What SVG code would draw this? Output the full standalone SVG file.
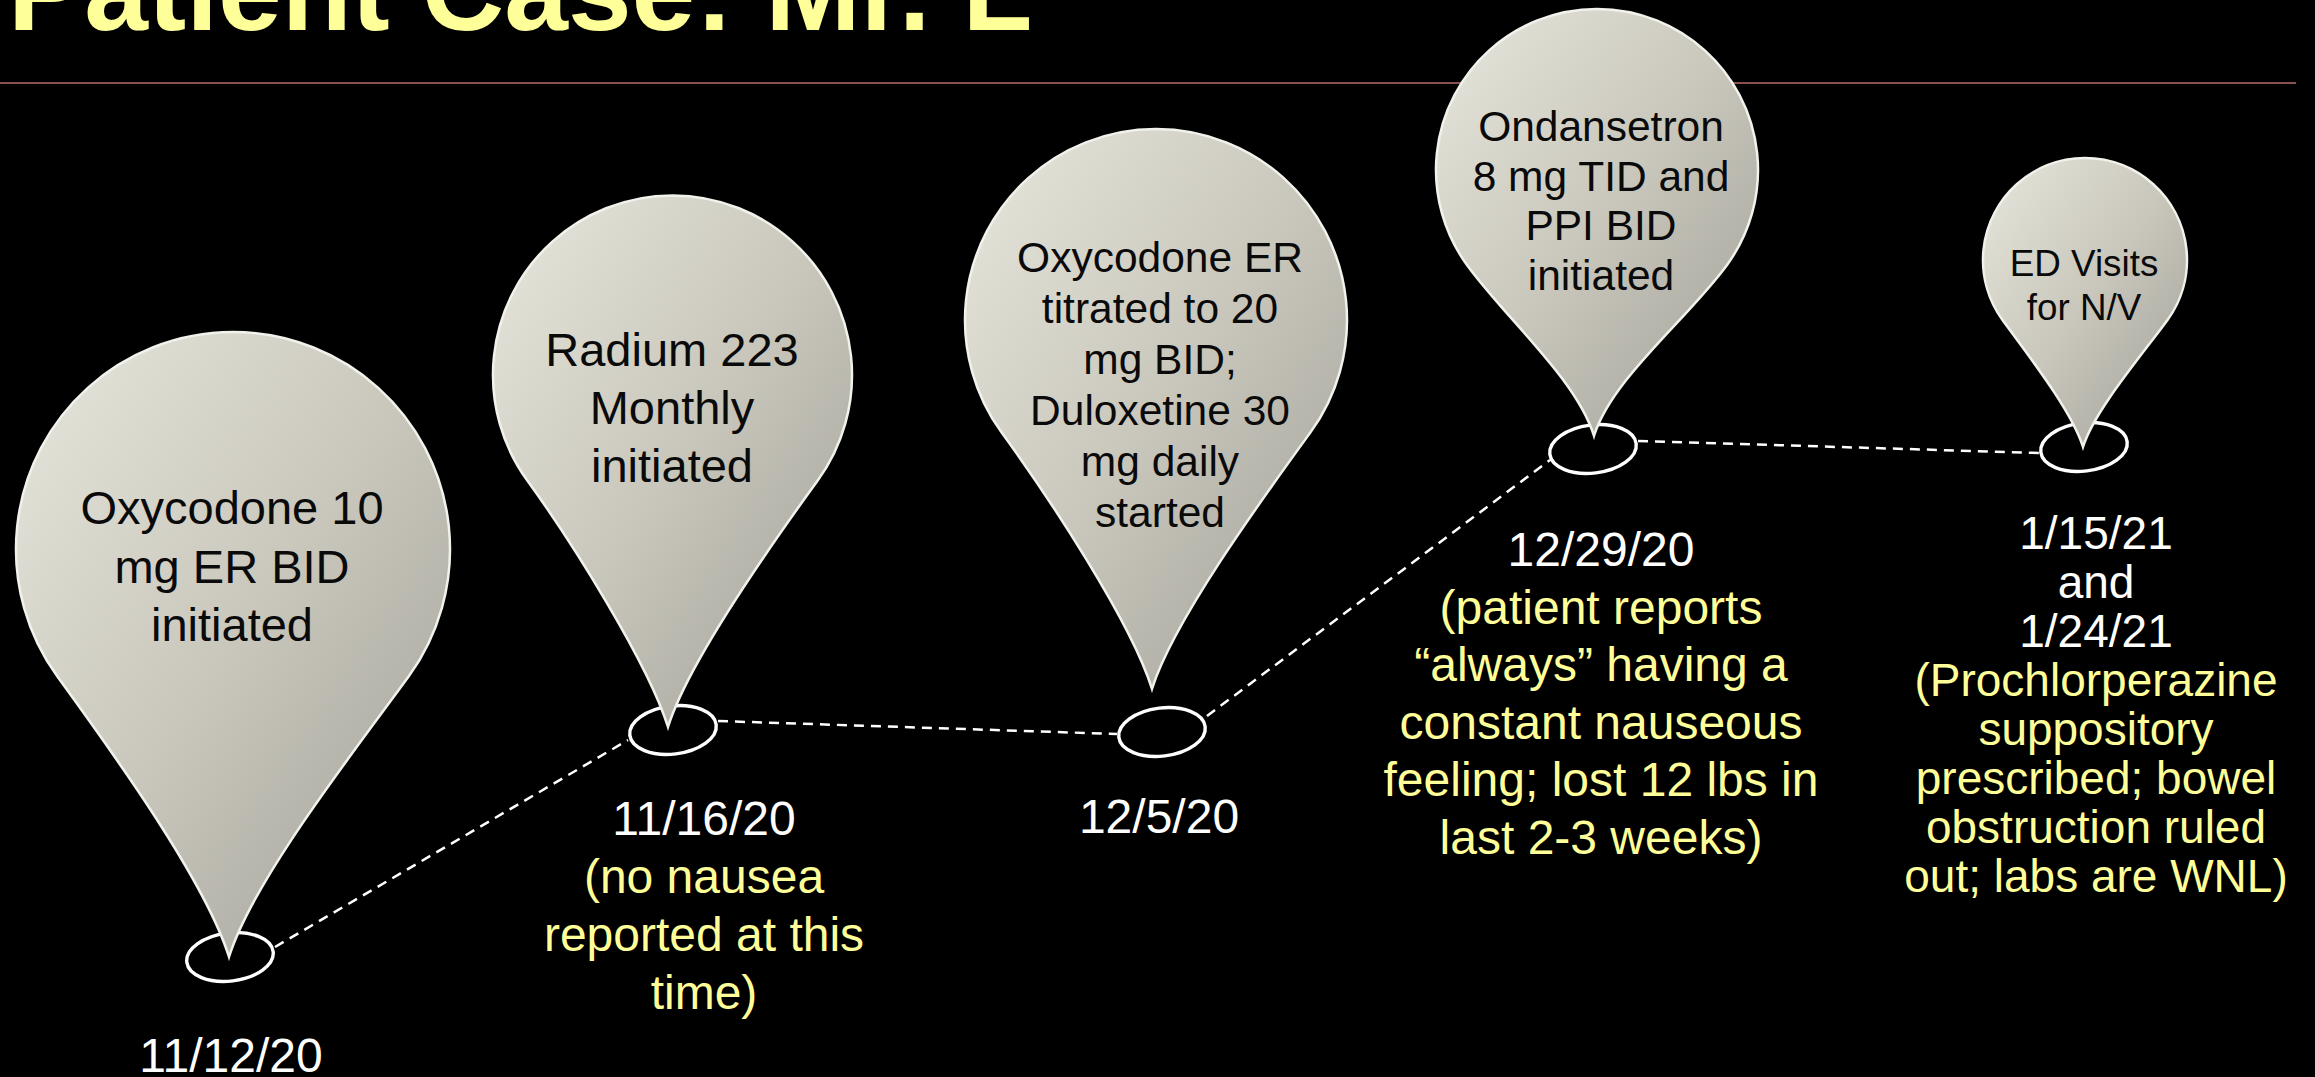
<svg xmlns="http://www.w3.org/2000/svg" width="2315" height="1077" viewBox="0 0 2315 1077">
<defs>
<linearGradient id="pinFill" x1="0" y1="0" x2="1" y2="1">
<stop offset="0" stop-color="#E8E7DD"/>
<stop offset="0.5" stop-color="#C9C7BC"/>
<stop offset="1" stop-color="#9F9E96"/>
</linearGradient>
<style>
.pin{fill:url(#pinFill);stroke:#F2F2EC;stroke-width:2.5}
.mark{fill:none;stroke:#FFFFFF;stroke-width:3.4}
.conn{stroke:#FFFFFF;stroke-width:2.5;stroke-dasharray:10 7;fill:none}
.pt{font-family:"Liberation Sans",Arial,sans-serif;fill:#0A0A0A;text-anchor:middle}
.lbl{font-family:"Liberation Sans",Arial,sans-serif;text-anchor:middle;font-size:48px}
.l5{font-size:46px}
.w{fill:#FFFFFF}
.y{fill:#FFFF99}
</style>
</defs>
<rect x="0" y="0" width="2315" height="1077" fill="#000000"/>
<g id="title">
<text x="8" y="29.5" font-family="'Liberation Sans',Arial,sans-serif" font-weight="bold" font-size="114.5" fill="#FFFF99">Patient Case: Mr. L</text>
</g>
<line x1="0" y1="83" x2="2296" y2="83" stroke="#8A5050" stroke-width="2.2"/>
<g id="connectors">
<line class="conn" x1="275" y1="947" x2="628" y2="740"/>
<line class="conn" x1="718" y1="721" x2="1117" y2="734"/>
<line class="conn" x1="1207" y1="716" x2="1550" y2="460"/>
<line class="conn" x1="1638" y1="441" x2="2040" y2="453"/>
</g>
<g id="node1">
<ellipse class="mark" cx="230" cy="957" rx="43.5" ry="24" transform="rotate(-7 230 957)"/>
<path class="pin" d="M229,957 C205.1,880 110.4,749.5 57.4,676.6 A217,217 0 1 1 408.6,676.6 C355.6,749.5 252.9,880 229,957 Z"/>
<text class="pt" font-size="47" x="232" y="524">Oxycodone 10</text>
<text class="pt" font-size="47" x="232" y="583">mg ER BID</text>
<text class="pt" font-size="47" x="232" y="641">initiated</text>
<text class="lbl w" x="231" y="1072">11/12/20</text>
</g>
<g id="node2">
<ellipse class="mark" cx="673" cy="730" rx="43.5" ry="24" transform="rotate(-7 673 730)"/>
<path class="pin" d="M668,727 C648.3,663.3 571.1,540.9 527.3,480.5 A179.5,179.5 0 1 1 817.7,480.5 C773.9,540.9 687.7,663.3 668,727 Z"/>
<text class="pt" font-size="47" x="672" y="366">Radium 223</text>
<text class="pt" font-size="47" x="672" y="424">Monthly</text>
<text class="pt" font-size="47" x="672" y="482">initiated</text>
<text class="lbl w" x="704" y="835">11/16/20</text>
<text class="lbl y" x="704" y="893">(no nausea</text>
<text class="lbl y" x="704" y="951">reported at this</text>
<text class="lbl y" x="704" y="1009">time)</text>
</g>
<g id="node3">
<ellipse class="mark" cx="1162" cy="732" rx="43.5" ry="24" transform="rotate(-7 1162 732)"/>
<path class="pin" d="M1152,689 C1131,621.2 1048.1,496.5 1001.5,432.3 A191,191 0 1 1 1310.5,432.3 C1263.9,496.5 1173,621.2 1152,689 Z"/>
<text class="pt" font-size="42.5" x="1160" y="272">Oxycodone ER</text>
<text class="pt" font-size="42.5" x="1160" y="323">titrated to 20</text>
<text class="pt" font-size="42.5" x="1160" y="374">mg BID;</text>
<text class="pt" font-size="42.5" x="1160" y="425">Duloxetine 30</text>
<text class="pt" font-size="42.5" x="1160" y="476">mg daily</text>
<text class="pt" font-size="42.5" x="1160" y="527">started</text>
<text class="lbl w" x="1159" y="833">12/5/20</text>
</g>
<g id="node4">
<ellipse class="mark" cx="1593" cy="449" rx="43.5" ry="24" transform="rotate(-7 1593 449)"/>
<path class="pin" d="M1594,436 C1576.3,378.8 1506,318.8 1466.8,264.7 A161,161 0 1 1 1727.2,264.7 C1688,318.8 1611.7,378.8 1594,436 Z"/>
<text class="pt" font-size="42.5" x="1601" y="141">Ondansetron</text>
<text class="pt" font-size="42.5" x="1601" y="190.5">8 mg TID and</text>
<text class="pt" font-size="42.5" x="1601" y="240">PPI BID</text>
<text class="pt" font-size="42.5" x="1601" y="290">initiated</text>
<text class="lbl w" x="1601" y="566">12/29/20</text>
<text class="lbl y" x="1601" y="623.5">(patient reports</text>
<text class="lbl y" x="1601" y="681">“always” having a</text>
<text class="lbl y" x="1601" y="738.5">constant nauseous</text>
<text class="lbl y" x="1601" y="796">feeling; lost 12 lbs in</text>
<text class="lbl y" x="1601" y="853.5">last 2-3 weeks)</text>
</g>
<g id="node5">
<ellipse class="mark" cx="2084" cy="447" rx="43.5" ry="24" transform="rotate(-7 2084 447)"/>
<path class="pin" d="M2083,447 C2071.8,410.8 2027.4,354.2 2002.5,320 A102,102 0 1 1 2167.5,320 C2142.6,354.2 2094.2,410.8 2083,447 Z"/>
<text class="pt" font-size="36.8" x="2084" y="276">ED Visits</text>
<text class="pt" font-size="36.8" x="2084" y="320">for N/V</text>
<text class="lbl l5 w" x="2096" y="549">1/15/21</text>
<text class="lbl l5 w" x="2096" y="598">and</text>
<text class="lbl l5 w" x="2096" y="647">1/24/21</text>
<text class="lbl l5 y" x="2096" y="696">(Prochlorperazine</text>
<text class="lbl l5 y" x="2096" y="745">suppository</text>
<text class="lbl l5 y" x="2096" y="794">prescribed; bowel</text>
<text class="lbl l5 y" x="2096" y="843">obstruction ruled</text>
<text class="lbl l5 y" x="2096" y="892">out; labs are WNL)</text>
</g>
</svg>
